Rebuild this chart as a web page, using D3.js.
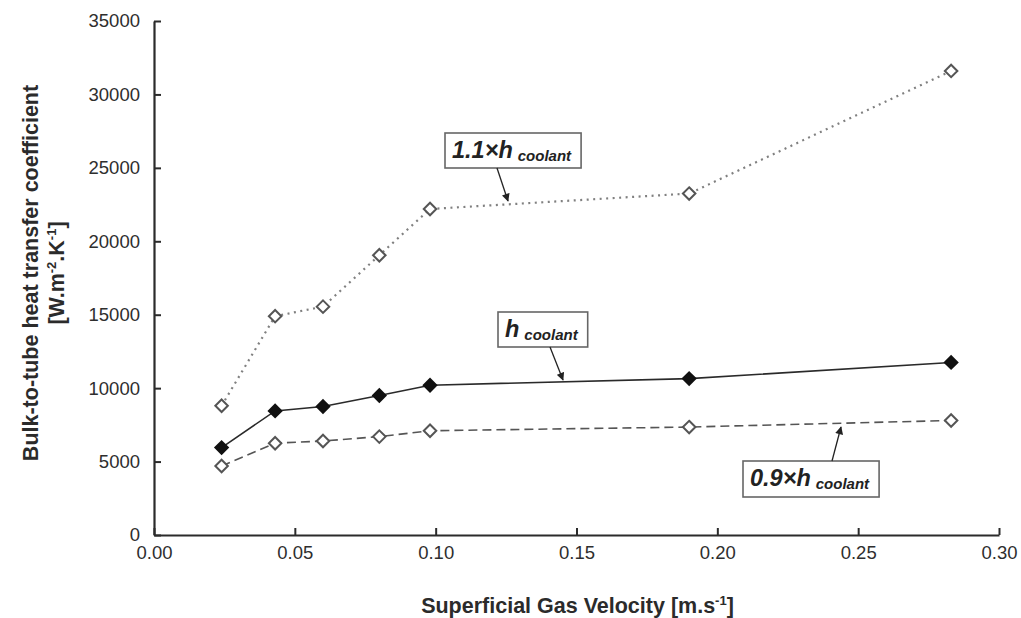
<!DOCTYPE html>
<html>
<head>
<meta charset="utf-8">
<script src="https://cdn.jsdelivr.net/npm/d3@7"></script>
<style>
  html, body { margin: 0; padding: 0; background: #fff; }
  svg { display: block; font-family: "Liberation Sans", Arial, Helvetica, sans-serif; }
</style>
</head>
<body>
<svg id="chart" width="1021" height="618"></svg>
<script>
// ---- data ----
const velocity = [0.024, 0.043, 0.060, 0.080, 0.098, 0.190, 0.283];
const hCoolant = [5950, 8450, 8750, 9500, 10200, 10650, 11750];
const hHigh    = [8800, 14900, 15550, 19050, 22200, 23250, 31600]; // 1.1 x h_coolant
const hLow     = [4700, 6250, 6400, 6700, 7100, 7350, 7800];       // 0.9 x h_coolant
const xTicks = [0, 0.05, 0.10, 0.15, 0.20, 0.25, 0.30];
const yTicks = [0, 5000, 10000, 15000, 20000, 25000, 30000, 35000];
const xTitle = "Superficial Gas Velocity [m.s";
const yTitle1 = "Bulk-to-tube heat transfer coefficient";

// ---- layout ----
const svg = d3.select("#chart");
const mL = 154, mR = 999, mT = 21, mB = 535;
const x = d3.scaleLinear().domain([0, 0.30]).range([mL, mR]);
const y = d3.scaleLinear().domain([0, 35000]).range([mB, mT]);

const ink = "#2b2b2b";

// axes
const xAxis = svg.append("g").attr("transform", `translate(0,${mB})`)
  .call(d3.axisBottom(x).tickValues(xTicks).tickFormat(d3.format(".2f"))
        .tickSizeInner(-7).tickSizeOuter(0).tickPadding(11));
const yAxis = svg.append("g").attr("transform", `translate(${mL},0)`)
  .call(d3.axisLeft(y).tickValues(yTicks).tickFormat(d3.format("d"))
        .tickSizeInner(-7).tickSizeOuter(0).tickPadding(14));
[xAxis, yAxis].forEach(g => {
  g.select(".domain").attr("stroke", ink).attr("stroke-width", 2.2);
  g.selectAll(".tick line").attr("stroke", ink).attr("stroke-width", 2);
  g.selectAll(".tick text").attr("fill", "#2e2e2e").style("font-size", "18.5px")
    .style("font-family", "'Liberation Sans', Arial, sans-serif");
});

// axis titles
const xt = svg.append("text").attr("x", (mL + mR) / 2 + 1).attr("y", 613)
  .attr("text-anchor", "middle").attr("fill", ink)
  .style("font-size", "21.5px").style("font-weight", "bold");
xt.append("tspan").text(xTitle);
xt.append("tspan").attr("dy", -8).style("font-size", "13px").text("-1");
xt.append("tspan").attr("dy", 8).text("]");

const yt = svg.append("g").attr("transform", `translate(38,273) rotate(-90)`);
yt.append("text").attr("text-anchor", "middle").attr("fill", ink)
  .style("font-size", "21.5px").style("font-weight", "bold").text(yTitle1);
const yt2 = yt.append("text").attr("y", 26).attr("text-anchor", "middle").attr("fill", ink)
  .style("font-size", "21.5px").style("font-weight", "bold");
yt2.append("tspan").text("[W.m");
yt2.append("tspan").attr("dy", -8).style("font-size", "13px").text("-2");
yt2.append("tspan").attr("dy", 8).text(".K");
yt2.append("tspan").attr("dy", -8).style("font-size", "13px").text("-1");
yt2.append("tspan").attr("dy", 8).text("]");

// series
const series = [
  { name: "low",  values: hLow,     stroke: "#555", width: 1.6, dash: "9,5", fill: "#fff", mstroke: "#555" },
  { name: "h",    values: hCoolant, stroke: "#2a2a2a", width: 1.6, dash: null, fill: "#111", mstroke: "#111" },
  { name: "high", values: hHigh,    stroke: "#808080", width: 2.2, dash: "2,4.5", fill: "#fff", mstroke: "#555" }
];
const line = d3.line().x(d => x(d[0])).y(d => y(d[1]));
const diamond = d3.symbol().type(d3.symbolDiamond2).size(100);

series.forEach(s => {
  const pts = velocity.map((v, i) => [v, s.values[i]]);
  svg.append("path").datum(pts).attr("d", line).attr("fill", "none")
    .attr("stroke", s.stroke).attr("stroke-width", s.width)
    .attr("stroke-dasharray", s.dash);
  svg.selectAll(null).data(pts).enter().append("path")
    .attr("d", diamond)
    .attr("transform", d => `translate(${x(d[0])},${y(d[1])})`)
    .attr("fill", s.fill).attr("stroke", s.mstroke).attr("stroke-width", 2);
});

// arrowhead
svg.append("defs").append("marker").attr("id", "arr")
  .attr("viewBox", "0 0 10 10").attr("refX", 9).attr("refY", 5)
  .attr("markerWidth", 9).attr("markerHeight", 8).attr("orient", "auto-start-reverse")
  .attr("markerUnits", "userSpaceOnUse")
  .append("path").attr("d", "M0,0 L10,5 L0,10 z").attr("fill", "#222");

// annotations (pixel layout)
const notes = [
  { pre: "1.1\u00D7h", bx: 445, by: 133, h: 35, from: [497, 168], to: [508, 201] },
  { pre: "h",          bx: 498, by: 312, h: 35, from: [550, 347], to: [563, 380] },
  { pre: "0.9\u00D7h", bx: 743, by: 461, h: 36, from: [832, 461], to: [841, 427] }
];
notes.forEach(n => {
  const g = svg.append("g");
  const rect = g.append("rect").attr("x", n.bx).attr("y", n.by).attr("height", n.h)
    .attr("fill", "#fff").attr("stroke", "#666").attr("stroke-width", 1.6);
  const t = g.append("text").attr("x", n.bx + 7).attr("y", n.by + 25).attr("fill", "#222")
    .style("font-weight", "bold").style("font-style", "italic").style("font-size", "23.5px");
  t.append("tspan").text(n.pre);
  t.append("tspan").attr("dx", 5).attr("dy", 3).style("font-size", "15px").text("coolant");
  const bb = t.node().getBBox();
  rect.attr("width", bb.x + bb.width - n.bx + 9);
  svg.append("line").attr("x1", n.from[0]).attr("y1", n.from[1])
    .attr("x2", n.to[0]).attr("y2", n.to[1]).attr("stroke", "#222").attr("stroke-width", 1.3)
    .attr("marker-end", "url(#arr)");
});
</script>
</body>
</html>
